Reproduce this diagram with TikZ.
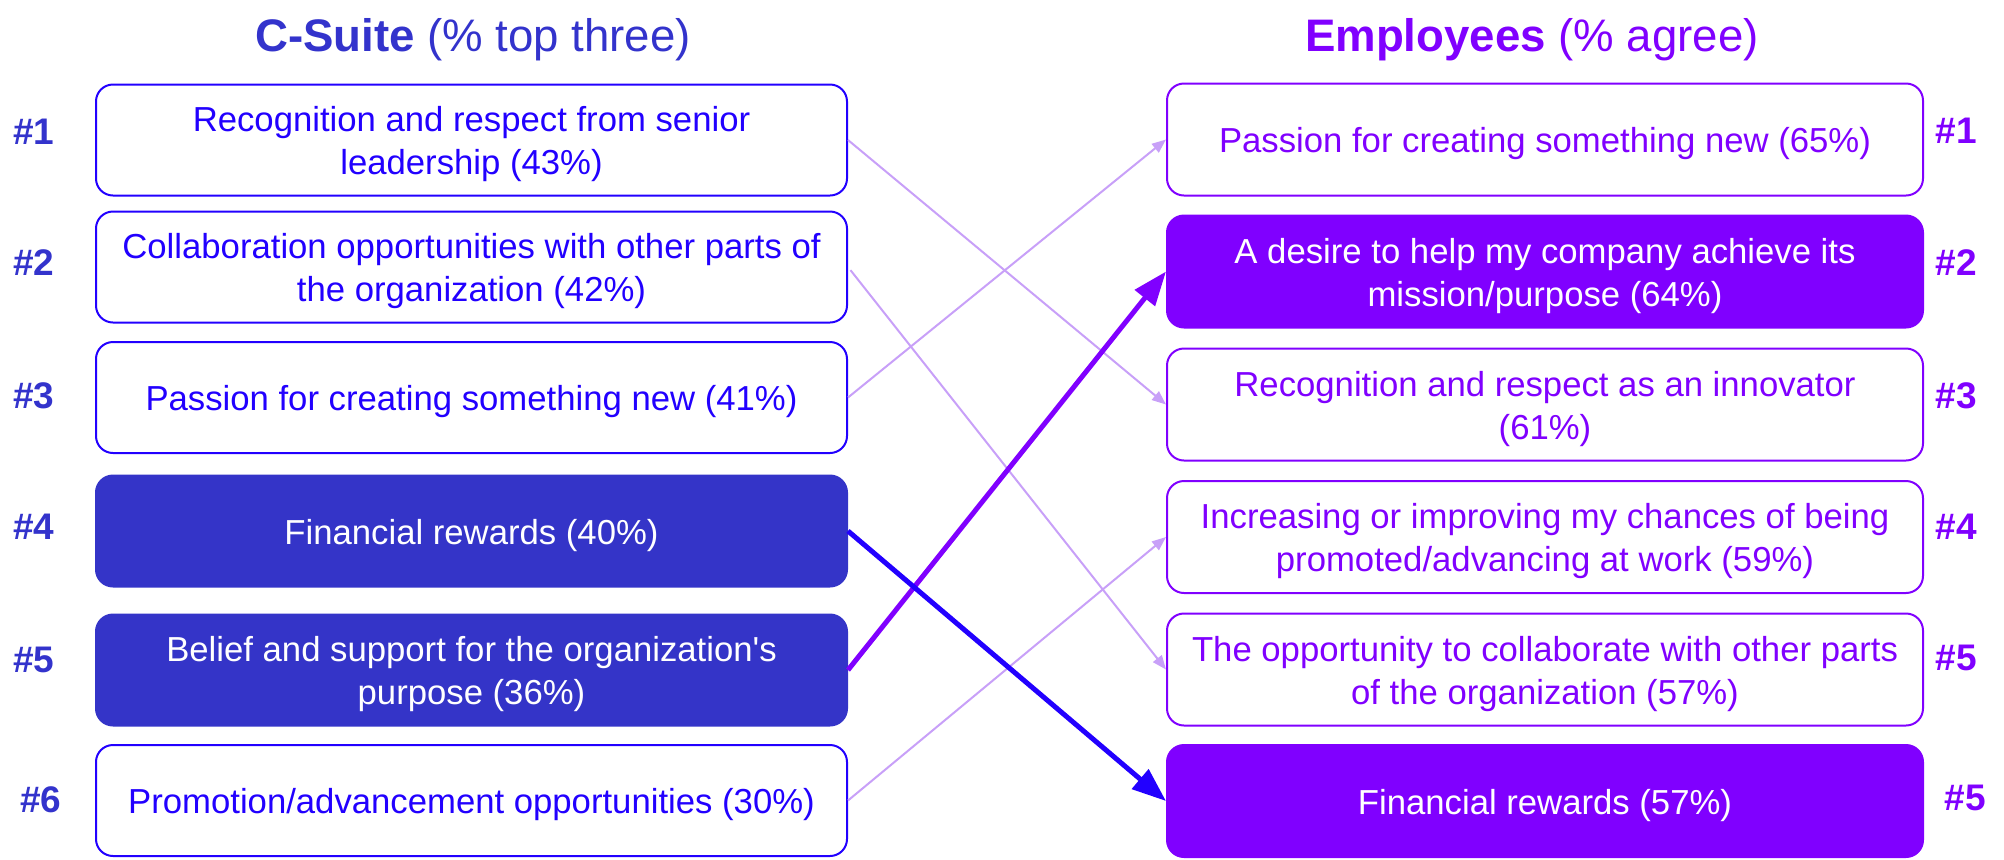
\documentclass[tikz,border=0pt]{standalone}
\usepackage{fontspec}
\setmainfont{Liberation Sans}
\usetikzlibrary{arrows.meta}

\definecolor{suiteblue}{RGB}{51,51,204}
\definecolor{lineblue}{RGB}{34,0,255}
\definecolor{fillblue}{RGB}{52,52,200}
\definecolor{empviolet}{RGB}{128,0,255}
\definecolor{lilac}{RGB}{200,160,248}

\begin{document}
\begin{tikzpicture}[x=0.5pt,y=-0.5pt,
  box/.style={rounded corners=8.5pt, line width=1pt, inner sep=0pt},
  lout/.style={box, draw=lineblue, fill=white, minimum width=375.5pt, minimum height=55.5pt},
  lfill/.style={box, draw=fillblue, fill=fillblue, minimum width=375.5pt, minimum height=55.5pt},
  rout/.style={box, draw=empviolet, fill=white, minimum width=378pt, minimum height=56pt},
  rfill/.style={box, draw=empviolet, fill=empviolet, minimum width=378pt, minimum height=56pt},
  txt/.style={align=center, inner sep=0pt, yshift=-2.2pt,
    font=\fontsize{17.35}{21.5}\selectfont},
  ltxt/.style={txt, text=lineblue},
  rtxt/.style={txt, text=empviolet},
  wtxt/.style={txt, text=white},
  rank/.style={font=\fontsize{18.5}{20}\selectfont\bfseries},
  lrank/.style={rank, text=suiteblue},
  rrank/.style={rank, text=empviolet},
  heading/.style={anchor=base, font=\fontsize{22.8}{26}\selectfont},
  faint/.style={draw=lilac, line width=1pt, -{Triangle[length=7pt,width=5.5pt]}},
  strong/.style={line width=2.5pt, -{Triangle[length=17pt,width=12.5pt]}}
]
\useasboundingbox (0,0) rectangle (2004,859);

% column headings
\node[heading, text=suiteblue] (hl) at (473,51) {\textbf{C-Suite} (\% top three)};
\node[heading, text=empviolet] (hr) at (1532,51) {\textbf{Employees} (\% agree)};

% C-Suite column
\node[lout]  (L1) at (471.5,140)   {};
\node[lout]  (L2) at (471.5,267)   {};
\node[lout]  (L3) at (471.5,397.5) {};
\node[lfill] (L4) at (471.5,531)   {};
\node[lfill] (L5) at (471.5,670)   {};
\node[lout]  (L6) at (471.5,800.5) {};

\node[ltxt] (L1t) at (L1) {Recognition and respect from senior\\leadership (43\%)};
\node[ltxt] (L2t) at (L2) {Collaboration opportunities with other parts of\\the organization (42\%)};
\node[ltxt] (L3t) at (L3) {Passion for creating something new (41\%)};
\node[wtxt] (L4t) at (L4) {Financial rewards (40\%)};
\node[wtxt] (L5t) at (L5) {Belief and support for the organization\textquotesingle s\\purpose (36\%)};
\node[ltxt] (L6t) at (L6) {Promotion/advancement opportunities (30\%)};

\node[lrank] (nl1) at (34,132) {\#1};
\node[lrank] (nl2) at (34,263) {\#2};
\node[lrank] (nl3) at (34,396) {\#3};
\node[lrank] (nl4) at (34,527) {\#4};
\node[lrank] (nl5) at (34,660) {\#5};
\node[lrank] (nl6) at (41,800) {\#6};

% Employees column
\node[rout]  (R1) at (1545,139.5) {};
\node[rfill] (R2) at (1545,271.5) {};
\node[rout]  (R3) at (1545,404.5) {};
\node[rout]  (R4) at (1545,537)   {};
\node[rout]  (R5) at (1545,669.5) {};
\node[rfill] (R6) at (1545,801)   {};

\node[rtxt] (R1t) at (R1) {Passion for creating something new (65\%)};
\node[wtxt] (R2t) at (R2) {A desire to help my company achieve its\\mission/purpose (64\%)};
\node[rtxt] (R3t) at (R3) {Recognition and respect as an innovator\\(61\%)};
\node[rtxt] (R4t) at (R4) {Increasing or improving my chances of being\\promoted/advancing at work (59\%)};
\node[rtxt] (R5t) at (R5) {The opportunity to collaborate with other parts\\of the organization (57\%)};
\node[wtxt] (R6t) at (R6) {Financial rewards (57\%)};

\node[rrank] (nr1) at (1956,131) {\#1};
\node[rrank] (nr2) at (1956,263) {\#2};
\node[rrank] (nr3) at (1956,396) {\#3};
\node[rrank] (nr4) at (1956,527) {\#4};
\node[rrank] (nr5) at (1956,658) {\#5};
\node[rrank] (nr6) at (1965,798) {\#5};

% rank shifts
\draw[faint] (L1.east) -- (R3.west);
\draw[faint, shorten <=2pt] (L2.east) -- (R5.west);
\draw[faint] (L3.east) -- (R1.west);
\draw[faint] (L6.east) -- (R4.west);
\draw[strong, empviolet] (L5.east) -- (R2.west);
\draw[strong, lineblue] (L4.east) -- (R6.west);
\end{tikzpicture}
\end{document}
